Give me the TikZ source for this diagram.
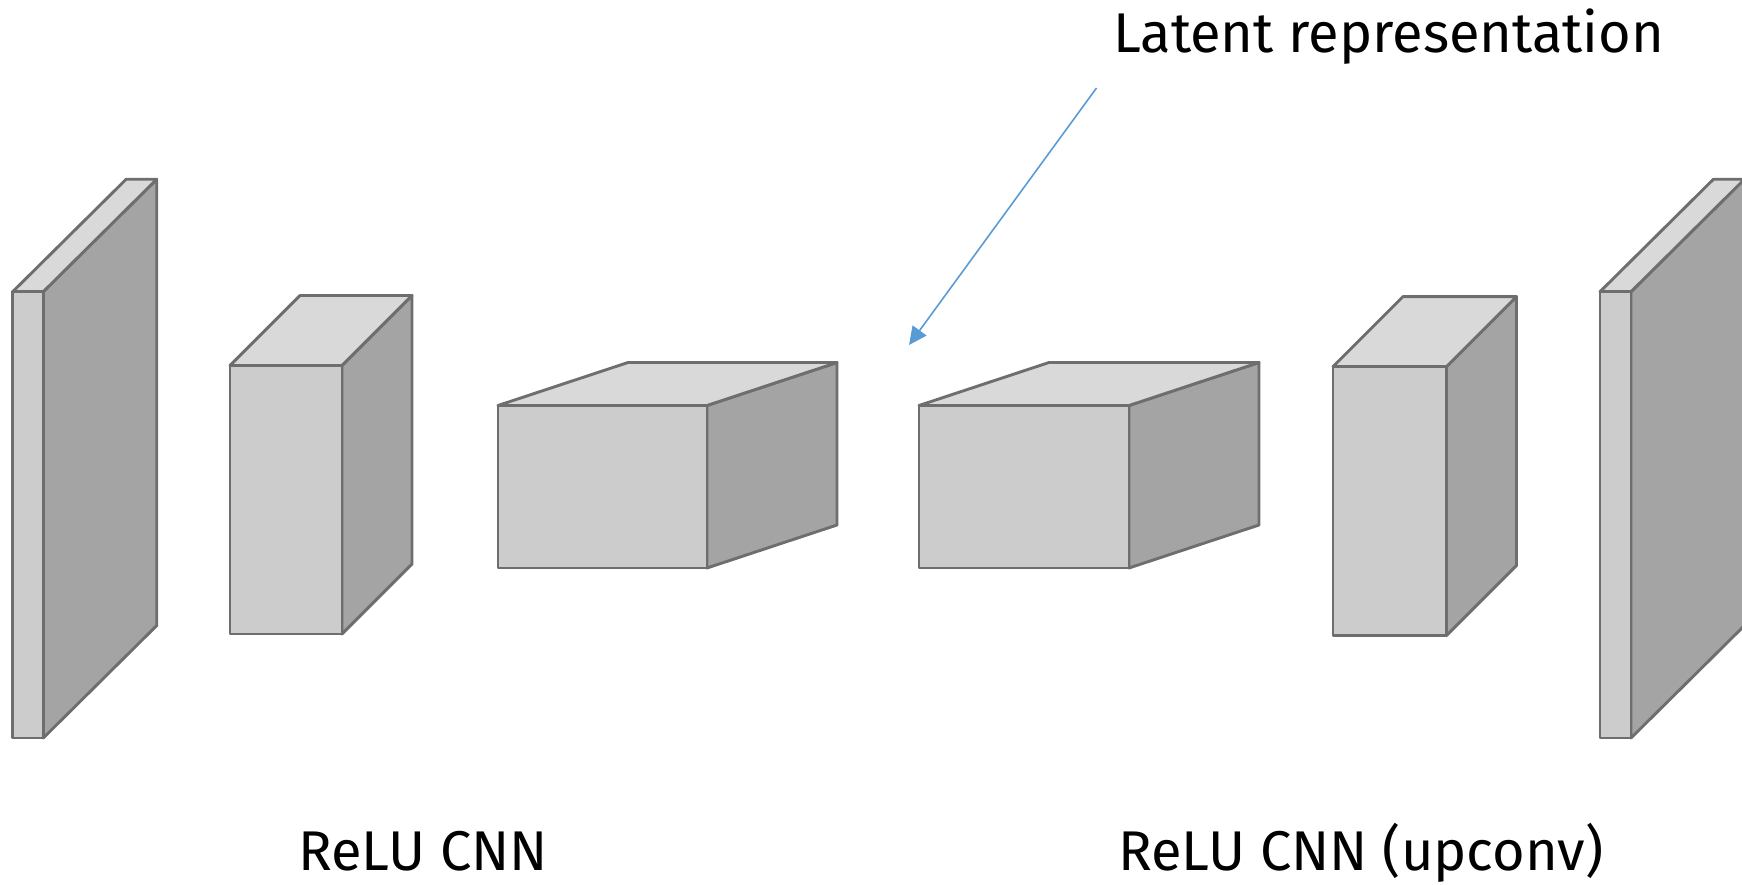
\documentclass[tikz,border=0pt]{standalone}
\usepackage{fontspec}
\setmainfont{Fira Sans}
\usetikzlibrary{arrows.meta,calc}

\definecolor{edgegray}{HTML}{6E6E6E}
\definecolor{frontgray}{HTML}{CCCCCC}
\definecolor{topgray}{HTML}{D9D9D9}
\definecolor{sidegray}{HTML}{A4A4A4}
\definecolor{arrowblue}{HTML}{5B9BD5}

\tikzset{
  face/.style={draw=edgegray, line width=2.9pt, line join=round},
  caption/.style={anchor=base west, inner sep=0pt, font=\fontsize{56}{58}\selectfont},
  pointer/.style={draw=arrowblue, line width=1.6pt,
    -{Triangle[length=18pt,width=17pt]}},
}

% layer block: front face (#1,#2)-(#3,#4), depth offset (#5,#6)
\newcommand\layerblock[6]{%
  \path[face, fill=sidegray] (#3,#2) -- ++(#5,-#6) -- ($(#3,#4)+(#5,-#6)$) -- (#3,#4) -- cycle;
  \path[face, fill=topgray] (#1,#2) -- ++(#5,-#6) -- ($(#3,#2)+(#5,-#6)$) -- (#3,#2) -- cycle;
  \path[face, fill=frontgray] (#1,#2) rectangle (#3,#4);
}

\begin{document}
\begin{tikzpicture}[x=1pt, y=-1pt]
  \useasboundingbox (0,0) rectangle (1742,885);

  % encoder
  \layerblock{12.7}{291.7}{43.3}{738}{113.4}{112.4}
  \layerblock{230}{365.5}{342}{634}{70}{70}
  \layerblock{498}{405.5}{707}{568}{130}{43}
  % decoder
  \layerblock{919}{405.5}{1129}{568}{130}{43}
  \layerblock{1333}{366.6}{1446.5}{635.5}{70}{70}
  \layerblock{1600}{291.7}{1631}{738}{113.4}{112.4}

  % labels
  \node[caption] (latent) at (1113,52.7) {Latent representation};
  \node[caption] (enc) at (298,870) {ReLU CNN};
  \node[caption] (dec) at (1118,870) {ReLU CNN (upconv)};

  % pointer to the bottleneck
  \coordinate (ptrstart) at (1096.5,88);
  \coordinate (ptrtip) at (909,345);
  \draw[pointer] (ptrstart) -- (ptrtip);
\end{tikzpicture}
\end{document}
